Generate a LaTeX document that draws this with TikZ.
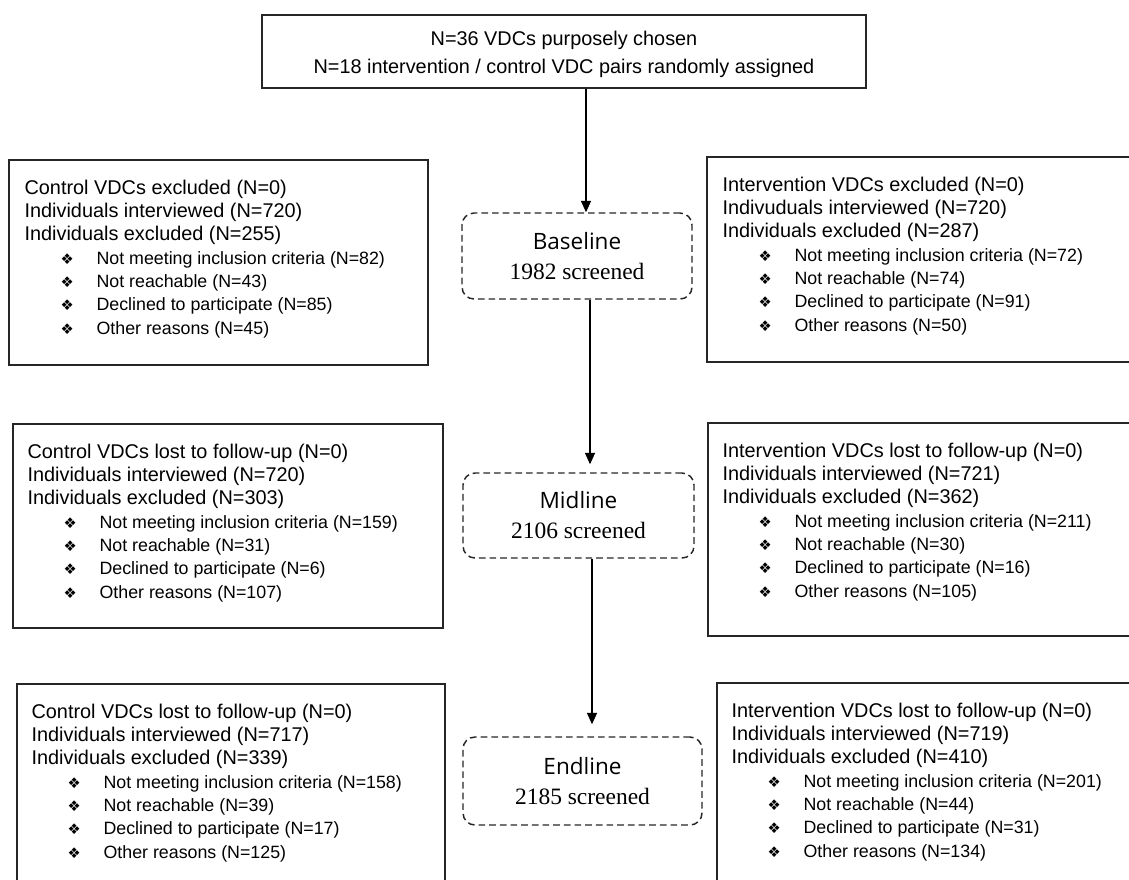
\documentclass[tikz,border=0pt]{standalone}
\usepackage{fontspec}
\setmainfont{Liberation Sans}
\newfontfamily\stagefont[Scale=0.96]{Open Sans}
\newfontfamily\countfont{Liberation Serif}
\newfontfamily\bulletfont{DejaVu Sans}
\usetikzlibrary{arrows.meta,fit}

\newcommand{\reason}[1]{\makebox[54pt][l]{\hspace{27pt}{\bulletfont\fontsize{11}{11}\selectfont ❖}}{\fontsize{13.35}{17.5}\selectfont #1}}

\begin{document}
\begin{tikzpicture}[x=0.75pt,y=-0.75pt,
  frame/.style={draw=black!85,line width=1pt,inner sep=0pt},
  stage/.style={draw=black!85,line width=1.1pt,dash pattern=on 5pt off 3pt,
    rounded corners=9pt,align=center,inner sep=0pt,font=\fontsize{17.6}{22.5}\selectfont},
  notes/.style={anchor=north west,align=left,inner sep=0pt,font=\fontsize{14.9}{17.5}\selectfont},
  arr/.style={-{Triangle[length=8.5pt,width=7.5pt]},line width=0.8pt}]
\useasboundingbox (0,0) rectangle (1129,879);
\clip (0,0) rectangle (1129,879);

% top and stages
\node[frame,minimum width=453pt,minimum height=54.75pt,align=center,
  font=\fontsize{14.9}{21.6}\selectfont] (top) at (564,51.5)
  {\rule{0pt}{15pt}N=36 VDCs purposely chosen\\N=18 intervention / control VDC pairs randomly assigned};
\node[stage,minimum width=172.5pt,minimum height=64.5pt] (baseline) at (577,256)
  {{\stagefont Baseline}\\{\countfont 1982 screened}};
\node[stage,minimum width=173.25pt,minimum height=63.75pt] (midline) at (578.5,515.5)
  {{\stagefont Midline}\\{\countfont 2106 screened}};
\node[stage,minimum width=179.25pt,minimum height=66pt] (endline) at (582.5,781)
  {{\stagefont Endline}\\{\countfont 2185 screened}};

\coordinate (s1) at (586,0);
\coordinate (s2) at (590,0);
\coordinate (s3) at (592,0);
\draw[arr] (top.south -| s1) -- (baseline.north -| s1);
\draw[arr,shorten >=6pt] (baseline.south -| s2) -- (midline.north -| s2);
\draw[arr,shorten >=9pt] (midline.south -| s3) -- (endline.north -| s3);

% control side
\node[frame,fit={(9,160)(428,365)}] (ctl1) {};
\node[notes] (ctl1txt) at ([shift={(16,20)}]ctl1.north west)
  {Control VDCs excluded (N=0)\\Individuals interviewed (N=720)\\Individuals excluded (N=255)\\
   \reason{Not meeting inclusion criteria (N=82)}\\\reason{Not reachable (N=43)}\\
   \reason{Declined to participate (N=85)}\\\reason{Other reasons (N=45)}};
\node[frame,fit={(13,424)(443,628)}] (ctl2) {};
\node[notes] (ctl2txt) at ([shift={(15,20)}]ctl2.north west)
  {Control VDCs lost to follow-up (N=0)\\Individuals interviewed (N=720)\\Individuals excluded (N=303)\\
   \reason{Not meeting inclusion criteria (N=159)}\\\reason{Not reachable (N=31)}\\
   \reason{Declined to participate (N=6)}\\\reason{Other reasons (N=107)}};
\node[frame,fit={(17,684)(445,900)}] (ctl3) {};
\node[notes] (ctl3txt) at ([shift={(15,20)}]ctl3.north west)
  {Control VDCs lost to follow-up (N=0)\\Individuals interviewed (N=717)\\Individuals excluded (N=339)\\
   \reason{Not meeting inclusion criteria (N=158)}\\\reason{Not reachable (N=39)}\\
   \reason{Declined to participate (N=17)}\\\reason{Other reasons (N=125)}};

% intervention side
\node[frame,fit={(707,157)(1140,362)}] (int1) {};
\node[notes] (int1txt) at ([shift={(16,20)}]int1.north west)
  {Intervention VDCs excluded (N=0)\\Indivuduals interviewed (N=720)\\Individuals excluded (N=287)\\
   \reason{Not meeting inclusion criteria (N=72)}\\\reason{Not reachable (N=74)}\\
   \reason{Declined to participate (N=91)}\\\reason{Other reasons (N=50)}};
\node[frame,fit={(708,423)(1140,636)}] (int2) {};
\node[notes] (int2txt) at ([shift={(15,20)}]int2.north west)
  {Intervention VDCs lost to follow-up (N=0)\\Individuals interviewed (N=721)\\Individuals excluded (N=362)\\
   \reason{Not meeting inclusion criteria (N=211)}\\\reason{Not reachable (N=30)}\\
   \reason{Declined to participate (N=16)}\\\reason{Other reasons (N=105)}};
\node[frame,fit={(717,683)(1140,900)}] (int3) {};
\node[notes] (int3txt) at ([shift={(15,20)}]int3.north west)
  {Intervention VDCs lost to follow-up (N=0)\\Individuals interviewed (N=719)\\Individuals excluded (N=410)\\
   \reason{Not meeting inclusion criteria (N=201)}\\\reason{Not reachable (N=44)}\\
   \reason{Declined to participate (N=31)}\\\reason{Other reasons (N=134)}};
\end{tikzpicture}
\end{document}
